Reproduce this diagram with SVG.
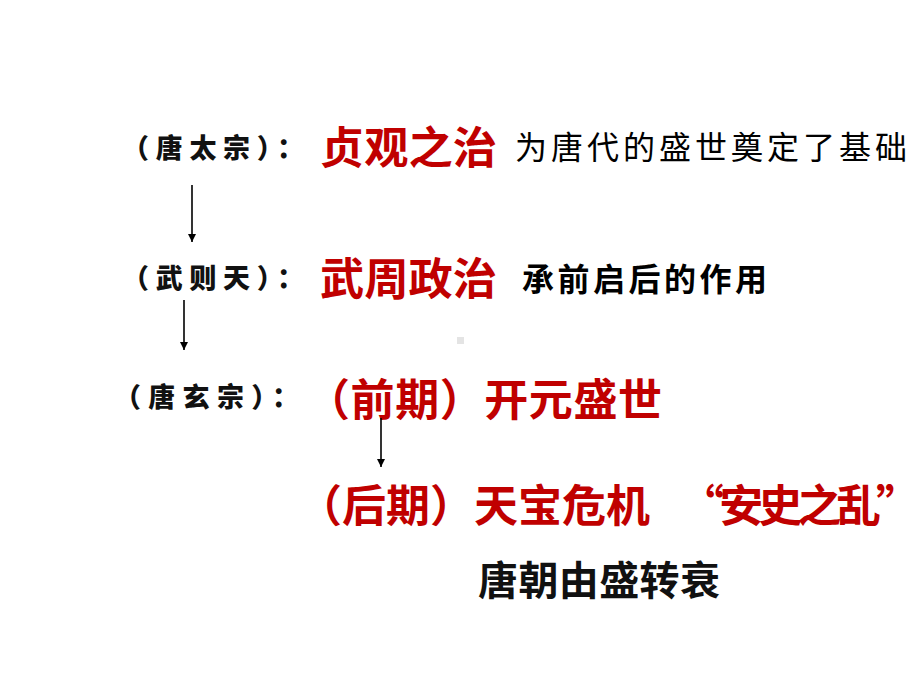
<svg xmlns="http://www.w3.org/2000/svg" width="920" height="690" viewBox="0 0 920 690">
<style>
.lbl{font-family:"Noto Sans CJK SC","Noto Sans CJK TC",sans-serif;font-weight:900;font-size:27px;fill:#111}
.red{font-family:"Noto Sans CJK SC","Noto Sans CJK TC",sans-serif;font-weight:bold;font-size:44px;fill:#c00000}
.desc{font-family:"Noto Sans CJK SC","Noto Sans CJK TC",sans-serif;font-size:32px;fill:#000}
.descb{font-family:"Noto Sans CJK SC","Noto Sans CJK TC",sans-serif;font-weight:bold;font-size:32px;fill:#000}
.big{font-family:"Noto Sans CJK SC","Noto Sans CJK TC",sans-serif;font-weight:bold;font-size:40px;fill:#111}
.arr{stroke:#000;stroke-width:1.6;fill:none;marker-end:url(#ah)}
</style>
<defs>
<marker id="ah" viewBox="0 0 8 10" refX="8" refY="5" markerWidth="8" markerHeight="10" markerUnits="userSpaceOnUse" orient="auto">
<path d="M0,1 L8,5 L0,9 Z" fill="#000"/>
</marker>
</defs>
<rect width="920" height="690" fill="#fff"/>
<rect x="457" y="337" width="7" height="7" fill="#e4e4e4"/>
<g id="taizong">
<text class="lbl" x="122" y="158" textLength="182" lengthAdjust="spacing">（唐太宗）：</text>
<text class="red" x="320" y="164" textLength="177" lengthAdjust="spacingAndGlyphs">贞观之治</text>
<text class="desc" x="515" y="159" textLength="392" lengthAdjust="spacing">为唐代的盛世奠定了基础</text>
</g>
<g id="wuzetian">
<text class="lbl" x="122" y="288" textLength="182" lengthAdjust="spacing">（武则天）：</text>
<text class="red" x="320" y="295" textLength="177" lengthAdjust="spacingAndGlyphs">武周政治</text>
<text class="descb" x="522" y="291" textLength="245" lengthAdjust="spacing">承前启后的作用</text>
</g>
<g id="xuanzong">
<text class="lbl" x="114" y="407" textLength="185" lengthAdjust="spacing">（唐玄宗）：</text>
<text class="red" x="306" y="416" textLength="356" lengthAdjust="spacing">（前期）开元盛世</text>
</g>
<g id="houqi">
<text class="red" x="298" y="522" textLength="352" lengthAdjust="spacing">（后期）天宝危机</text>
<text class="red" x="680" y="522" textLength="240" lengthAdjust="spacing">“安史之乱”</text>
</g>
<g id="shuai">
<text class="big" x="478" y="595" textLength="242" lengthAdjust="spacing">唐朝由盛转衰</text>
</g>
<g id="connectors">
<line class="arr" x1="192" y1="185" x2="192" y2="242"/>
<line class="arr" x1="184" y1="300" x2="184" y2="350"/>
<line class="arr" x1="381" y1="418" x2="381" y2="467"/>
</g>
</svg>
